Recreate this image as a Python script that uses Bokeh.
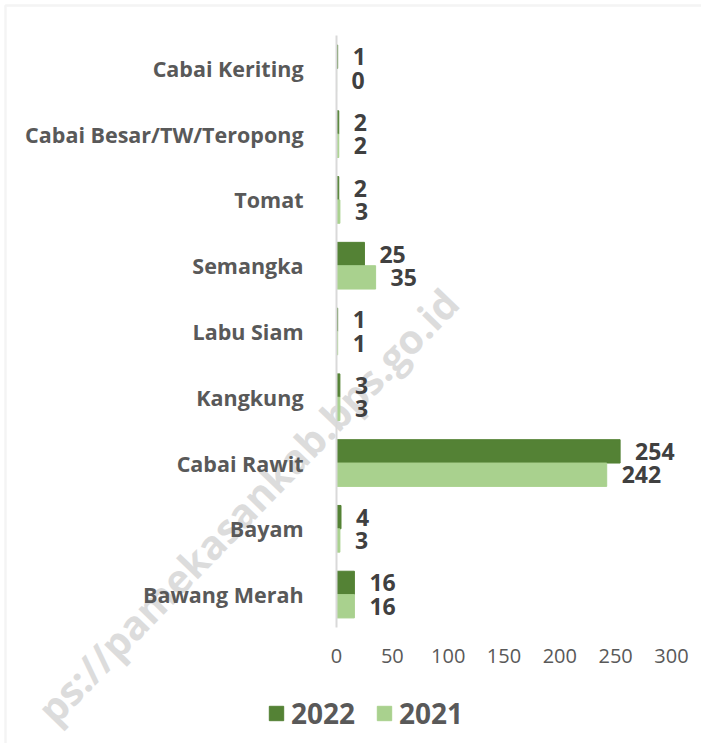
from bokeh.plotting import figure
from bokeh.models import (ColumnDataSource, LabelSet, Legend, LegendItem, Label,
                          Range1d, FixedTicker, BoxAnnotation)
from bokeh.transform import dodge
from bokeh.embed import file_html
from bokeh.resources import INLINE
from bokeh.core.properties import value

categories = ["Cabai Keriting", "Cabai Besar/TW/Teropong", "Tomat", "Semangka",
              "Labu Siam", "Kangkung", "Cabai Rawit", "Bayam", "Bawang Merah"]
values_2022 = [1, 2, 2, 25, 1, 3, 254, 4, 16]
values_2021 = [0, 2, 3, 35, 1, 3, 242, 3, 16]
x_ticks = [0, 50, 100, 150, 200, 250, 300]
watermark = "ps://pamekasankab.bps.go.id"   # visible part of the watermark

DARK = "#548235"
LIGHT = "#A9D18E"
TXT = "#595959"
VAL = "#404040"
FONT = "Open Sans"

n = len(categories)
ypos = [n - i - 0.5 for i in range(n)]   # category slots, top to bottom

src = ColumnDataSource(dict(y=ypos, v22=values_2022, v21=values_2021,
                            l22=[str(v) for v in values_2022],
                            l21=[str(v) for v in values_2021]))

W, H = 701, 743
p = figure(width=W, height=H, output_backend="svg", toolbar_location=None,
           x_range=Range1d(-301, 326.9), y_range=Range1d(-1.764, 9.532),
           min_border=0)
p.outline_line_color = None
p.grid.grid_line_color = None
p.background_fill_color = "white"
p.border_fill_color = "white"

# faint page border and watermark (behind the bars)
p.add_layout(BoxAnnotation(left=5, right=W + 20, top=H - 5, bottom=-20,
                           left_units="screen", right_units="screen",
                           top_units="screen", bottom_units="screen",
                           fill_alpha=0, line_color="#D9D9D9", line_width=2.5,
                           level="underlay"))
p.add_layout(Label(x=247, y=H - 505, x_units="screen", y_units="screen",
                   text=watermark, angle=46, angle_units="deg",
                   text_align="center", text_baseline="middle",
                   text_font=FONT, text_font_style="bold", text_font_size="40px",
                   text_color="#DCDCDC", level="underlay"))

BH = 0.355
r22 = p.hbar(y=dodge("y", BH / 2), right="v22", height=BH, source=src, color=DARK)
r21 = p.hbar(y=dodge("y", -BH / 2), right="v21", height=BH, source=src, color=LIGHT)

for col, lab, off in (("v22", "l22", BH / 2), ("v21", "l21", -BH / 2)):
    p.add_layout(LabelSet(x=col, y=dodge("y", off), text=lab, source=src,
                          x_offset=15, text_baseline="middle", text_font=value(FONT),
                          text_font_style="bold", text_font_size="23px",
                          text_color=VAL))

# x axis
p.xaxis.fixed_location = 0
p.xaxis.ticker = FixedTicker(ticks=x_ticks)
p.xaxis.axis_line_color = None
p.xaxis.major_tick_line_color = None
p.xaxis.minor_tick_line_color = None
p.xaxis.major_label_text_font = FONT
p.xaxis.major_label_text_font_size = "20px"
p.xaxis.major_label_text_color = TXT
p.xaxis.major_label_standoff = 16

# y (category) axis
p.yaxis.fixed_location = 0
p.yaxis.bounds = (0, n)
p.yaxis.ticker = FixedTicker(ticks=ypos)
p.yaxis.major_label_overrides = {y: c for y, c in zip(ypos, categories)}
p.yaxis.axis_line_color = "#D9D9D9"
p.yaxis.axis_line_width = 2
p.yaxis.major_tick_line_color = None
p.yaxis.minor_tick_line_color = None
p.yaxis.major_label_text_font = FONT
p.yaxis.major_label_text_font_style = "bold"
p.yaxis.major_label_text_font_size = "21.5px"
p.yaxis.major_label_text_color = TXT
p.yaxis.major_label_standoff = 27

legend = Legend(items=[LegendItem(label="2022", renderers=[r22]),
                       LegendItem(label="2021", renderers=[r21])],
                orientation="horizontal", location=(267, 11),
                label_text_font=FONT, label_text_font_style="bold",
                label_text_font_size="28px", label_text_color=TXT,
                glyph_width=18, glyph_height=18, label_standoff=6, spacing=20,
                padding=0, margin=0,
                border_line_color=None, background_fill_alpha=0)
p.add_layout(legend, "center")

open("out.html", "w").write(file_html(p, INLINE))
